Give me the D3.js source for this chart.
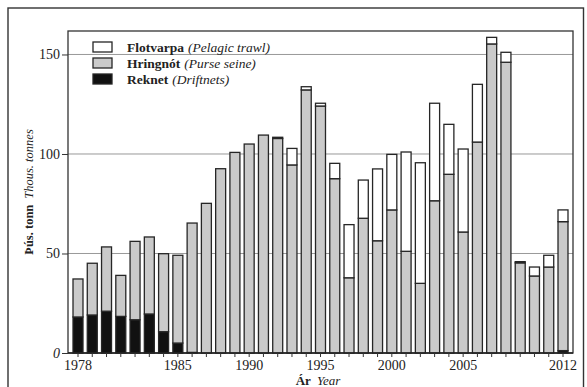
<!DOCTYPE html>
<html><head><meta charset="utf-8">
<script src="https://cdn.jsdelivr.net/npm/d3@7"></script>
<style>
html,body{margin:0;padding:0;background:#fff;}
svg{display:block;font-family:"Liberation Serif","Times New Roman",serif;}
</style></head>
<body><svg id="c" width="587" height="387"></svg>
<script>
const years = d3.range(1978, 2013);
const reknet = [18.1,19.1,21.0,18.4,16.7,19.6,10.7,5.0,0.3,0,0,0,0,0,0,0,0,0,0,0,0,0,0,0,0,0,0,0,0,0,0,0,0,0,1.2];
const hringnot = [19.1,26.0,32.3,20.6,39.4,38.7,39.2,44.1,65.0,75.2,92.6,100.8,105.0,109.5,107.8,94.5,132.2,124.1,87.6,37.8,67.7,56.4,71.9,51.1,35.0,76.5,89.8,60.8,106.0,155.3,146.1,45.3,38.7,43.2,64.8];
const flotvarpa = [0,0,0,0,0,0,0,0,0,0,0,0,0,0,0.6,8.3,1.6,1.4,7.7,26.7,19.2,36.1,27.9,49.9,60.6,49.0,25.1,41.7,29.0,3.3,5.0,0.6,4.5,5.9,5.9];
const labeledYears = [1978,1985,1990,1995,2000,2005,2012];
const yTicks = [0,50,100,150];
const seriesNames = [
  {key:"flotvarpa", is:"Flotvarpa", en:"(Pelagic trawl)", fill:"#ffffff"},
  {key:"hringnot", is:"Hringnót", en:"(Purse seine)", fill:"#cacaca"},
  {key:"reknet", is:"Reknet", en:"(Driftnets)", fill:"#111111"}
];

const svg = d3.select("#c");
const L=68, R=573, T=31, B=353;
const n = years.length;
const step = (563-78)/(n-1);
const x = d3.scaleBand().domain(years).range([78-step/2, 563+step/2]).paddingInner(0.3).paddingOuter(0.15);
const y = d3.scaleLinear().domain([0,161.8]).range([B,T]);

// outer frame
svg.append("rect").attr("x",8).attr("y",8).attr("width",575.5).attr("height",390)
  .attr("fill","none").attr("stroke","#333").attr("stroke-width",1.4);

// gridlines
svg.append("g").selectAll("line").data(yTicks.filter(d=>d>0)).join("line")
  .attr("x1",L).attr("x2",R).attr("y1",d=>y(d)).attr("y2",d=>y(d))
  .attr("stroke","#999").attr("stroke-width",1);

// plot frame
svg.append("rect").attr("x",L).attr("y",T).attr("width",R-L).attr("height",B-T)
  .attr("fill","none").attr("stroke","#333").attr("stroke-width",1.3);

// stacked bars
const rows = years.map((yr,i)=>({year:yr, reknet:reknet[i], hringnot:hringnot[i], flotvarpa:flotvarpa[i]}));
const stack = d3.stack().keys(["reknet","hringnot","flotvarpa"])(rows);
const fills = {reknet:"#111111", hringnot:"#cacaca", flotvarpa:"#ffffff"};
svg.append("g").selectAll("g").data(stack).join("g")
  .attr("fill",d=>fills[d.key])
  .selectAll("rect").data(d=>d.filter(s=>s[1]-s[0]>0)).join("rect")
  .attr("x",d=>x(d.data.year)).attr("width",x.bandwidth())
  .attr("y",d=>y(d[1])).attr("height",d=>y(d[0])-y(d[1]))
  .attr("stroke","#262626").attr("stroke-width",1.3);

// x axis
const xAxis = d3.axisBottom(x).tickSizeInner(4).tickSizeOuter(0).tickPadding(3)
  .tickFormat(d=>labeledYears.includes(d)?d:"");
const gx = svg.append("g").attr("transform",`translate(0,${B})`).call(xAxis);
gx.select(".domain").attr("stroke","#222").attr("stroke-width",1.3).attr("d",`M${L},0H${R}`);
gx.selectAll(".tick line").attr("stroke","#333");
gx.selectAll("text").attr("font-family","Liberation Serif").attr("font-size",14).attr("fill","#222");

// y axis
const yAxis = d3.axisLeft(y).tickValues(yTicks).tickSizeInner(6).tickSizeOuter(0).tickPadding(2);
const gy = svg.append("g").attr("transform",`translate(${L},0)`).call(yAxis);
gy.select(".domain").remove();
gy.selectAll(".tick line").attr("stroke","#333");
gy.selectAll("text").attr("font-family","Liberation Serif").attr("font-size",14).attr("fill","#222")
  .attr("font-style",d=>d===0?"italic":"normal");

// axis titles
const yt = svg.append("text").attr("transform",`translate(33,${(T+B)/2}) rotate(-90)`)
  .attr("text-anchor","middle").attr("font-size",12.5).attr("fill","#222");
yt.append("tspan").attr("font-weight","bold").text("Þús. tonn");
yt.append("tspan").attr("font-style","italic").attr("dx",6).text("Thous. tonnes");

const xt = svg.append("text").attr("x",318).attr("y",385).attr("text-anchor","middle")
  .attr("font-size",13).attr("fill","#222");
xt.append("tspan").attr("font-weight","bold").text("Ár");
xt.append("tspan").attr("font-style","italic").attr("dx",6).text("Year");

// legend
const lg = svg.append("g").selectAll("g").data(seriesNames).join("g")
  .attr("transform",(d,i)=>`translate(93,${42+i*16})`);
lg.append("rect").attr("width",19).attr("height",10).attr("fill",d=>d.fill)
  .attr("stroke","#262626").attr("stroke-width",1.3);
const lt = lg.append("text").attr("x",34).attr("y",10).attr("font-size",13.5).attr("fill","#222");
lt.append("tspan").attr("font-weight","bold").text(d=>d.is);
lt.append("tspan").attr("font-style","italic").attr("dx",4).text(d=>d.en);
</script></body></html>
